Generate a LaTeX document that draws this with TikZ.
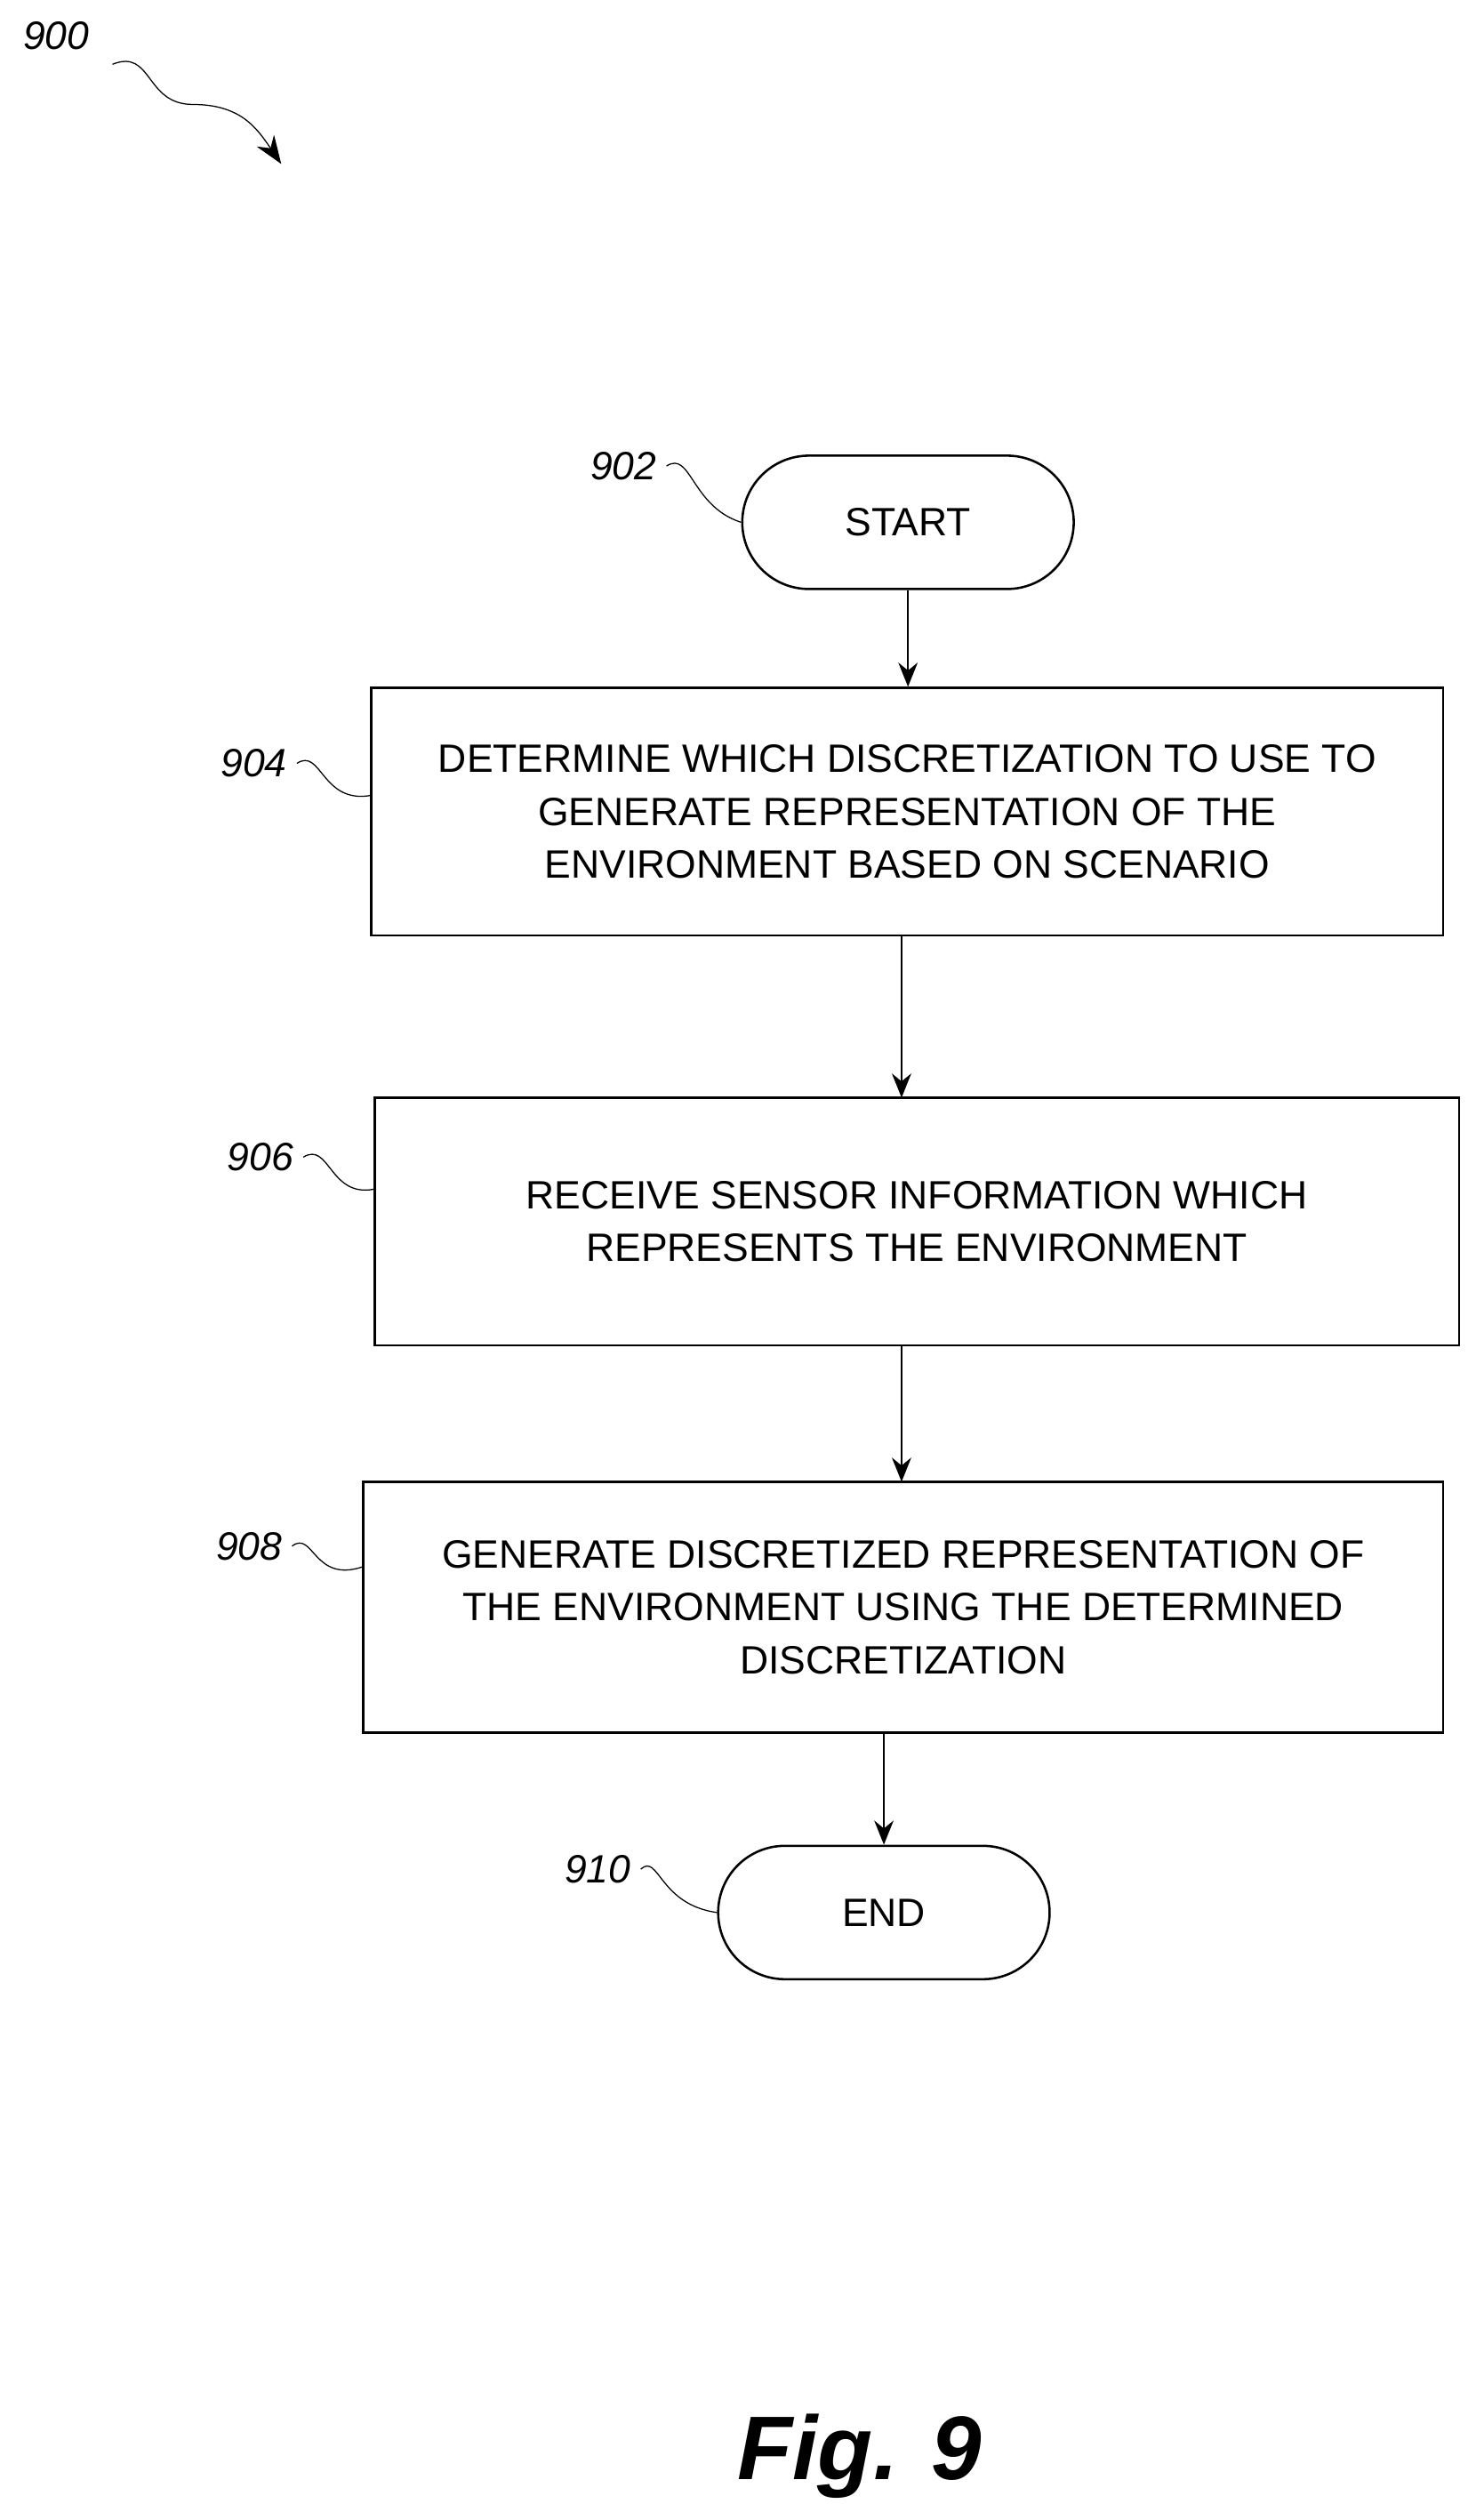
\documentclass[tikz,border=0pt]{standalone}
\usepackage{fontspec}
\setmainfont{Liberation Sans}
\usetikzlibrary{positioning,shapes.misc,arrows.meta}
\tikzset{
  block/.style = {draw, thick, rectangle, align=center, font=\fontsize{14}{18.7}\selectfont},
  term/.style = {draw, thick, rounded rectangle, minimum width=4.36cm, minimum height=1.66cm, font=\fontsize{14}{18.7}\selectfont},
  ref/.style  = {font=\fontsize{14}{17}\selectfont\itshape},
  flow/.style = {-{Stealth[length=3mm,width=2.4mm]}, thick},
  lead/.style = {thin}
}
\begin{document}
\begin{tikzpicture}[x=0.02cm,y=-0.02cm]
  \useasboundingbox[fill=white] (0,0) rectangle (918,1568);
  % blocks
  \node[term] (start) at (565,325) {START};
  \node[block, minimum width=13.34cm, minimum height=3.08cm] (b904) at (564.5,505) {DETERMINE WHICH DISCRETIZATION TO USE TO\\GENERATE REPRESENTATION OF THE\\ENVIRONMENT BASED ON SCENARIO};
  \node[block, minimum width=13.5cm, minimum height=3.08cm] (b906) at (570.5,760) {RECEIVE SENSOR INFORMATION WHICH\\REPRESENTS THE ENVIRONMENT};
  \node[block, minimum width=13.44cm, minimum height=3.12cm] (b908) at (562,1000) {GENERATE DISCRETIZED REPRESENTATION OF\\THE ENVIRONMENT USING THE DETERMINED\\DISCRETIZATION};
  \node[term] (end) at (550,1190) {END};
  % flow
  \draw[flow] (start.south) -- (start.south |- b904.north);
  \draw[flow] (561,582) -- (561,683);
  \draw[flow] (561,837) -- (561,922);
  \draw[flow] (550,1078) -- (end.north);
  % reference numerals
  \node[ref] (r900) at (35,22) {900};
  \coordinate (t900) at (175,102);
  \draw[lead, -{Stealth[length=3.5mm,width=2.6mm]}] (70,40) .. controls (95,30) and (90,65) .. (120,65) .. controls (150,65) and (160,80) .. (t900);
  \node[ref] (r902) at (388,290) {902};
  \draw[lead] (r902.east) .. controls (430,280) and (430,315) .. (start.west);
  \node[ref] (r904) at (158,475) {904};
  \draw[lead] (r904.east) .. controls (200,465) and (200,500) .. (b904.west |- 0,495);
  \node[ref] (r906) at (162,720) {906};
  \draw[lead] (r906.east) .. controls (205,710) and (205,745) .. (b906.west |- 0,740);
  \node[ref] (r908) at (155,962) {908};
  \draw[lead] (r908.east) .. controls (195,952) and (195,985) .. (b908.west |- 0,975);
  \node[ref] (r910) at (372,1163) {910};
  \draw[lead] (r910.east) .. controls (410,1153) and (410,1185) .. (end.west);
  % caption
  \node[font=\fontsize{32}{36}\selectfont\bfseries\itshape] (fig) at (535,1528) {Fig. 9};
\end{tikzpicture}
\end{document}
